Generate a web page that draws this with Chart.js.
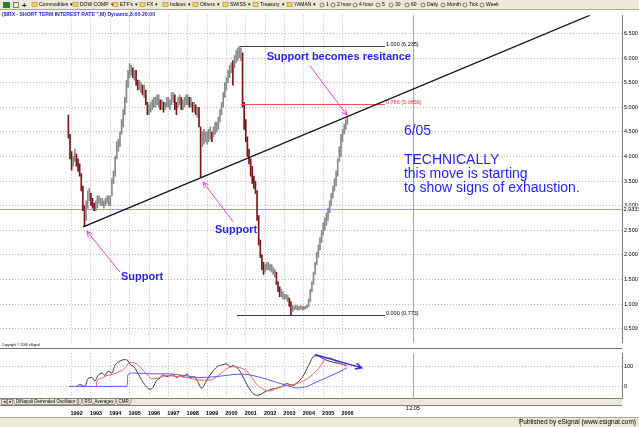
<!DOCTYPE html>
<html>
<head>
<meta charset="utf-8">
<title>$IRX - Short Term Interest Rate</title>
<script src="https://cdn.jsdelivr.net/npm/chart.js@4.4.1/dist/chart.umd.min.js"></script>
<style>
    html, body { margin: 0; padding: 0; background: #fff; }
    #page { position: relative; width: 639px; height: 427px; overflow: hidden; }
    canvas { position: absolute; left: 0; }
    #frame { top: 0; }
    #priceChart { top: 10px; }
    #oscChart { top: 348px; }
</style>
</head>
<body>
<div id="page">
    <canvas id="frame" width="639" height="427"></canvas>
    <canvas id="priceChart" width="639" height="338"></canvas>
    <canvas id="oscChart" width="639" height="70"></canvas>
</div>
<script>
"use strict";

// ---- data -------------------------------------------------------------

// monthly bars, the first one is Nov 1991
const firstBar = 1991 + 10 / 12;
const barHigh = [
    4.84, 4.45,
    4.10, 4.00, 4.15, 4.05, 3.95, 3.85, 3.65, 3.40, 3.00, 3.10, 3.30, 3.35,
    3.25, 3.15, 3.05, 3.10, 3.20, 3.20, 3.15, 3.15, 3.10, 3.15, 3.20, 3.20,
    3.20, 3.55, 3.70, 4.00, 4.30, 4.35, 4.50, 4.75, 4.95, 5.20, 5.55, 5.75,
    5.88, 5.85, 5.80, 5.75, 5.75, 5.55, 5.55, 5.50, 5.45, 5.45, 5.35, 5.10,
    5.05, 5.10, 5.15, 5.20, 5.20, 5.25, 5.25, 5.15, 5.15, 5.10, 5.10, 5.20,
    5.20, 5.15, 5.30, 5.30, 5.25, 5.10, 5.20, 5.25, 5.20, 5.15, 5.20, 5.25,
    5.25, 5.20, 5.20, 5.10, 5.10, 5.05, 5.00, 5.00, 4.60, 4.50, 4.55, 4.50,
    4.50, 4.55, 4.60, 4.50, 4.60, 4.70, 4.70, 4.80, 4.95, 5.10, 5.30, 5.50,
    5.60, 5.75, 5.85, 5.90, 5.95, 6.05, 6.15, 6.20, 6.235, 6.20, 6.10, 5.10,
    4.75, 4.40, 4.15, 3.95, 3.80, 3.60, 3.50, 3.30, 2.80, 2.30, 2.00, 1.85,
    1.80, 1.85, 1.85, 1.80, 1.80, 1.75, 1.70, 1.65, 1.45, 1.35, 1.30, 1.25,
    1.20, 1.20, 1.18, 1.12, 1.05, 0.98, 0.95, 0.98, 0.97, 0.95, 0.97, 0.96,
    0.95, 0.96, 0.98, 1.10, 1.30, 1.45, 1.65, 1.85, 2.05, 2.20, 2.35, 2.50,
    2.65, 2.75, 2.85, 2.95, 3.10, 3.25, 3.40, 3.55, 3.70, 3.95, 4.20, 4.45,
    4.55, 4.65, 4.75, 4.82
];
const barLow = [
    4.37, 3.95,
    3.72, 3.80, 3.90, 3.80, 3.70, 3.60, 3.30, 2.90, 2.58, 2.70, 2.95, 3.10,
    3.00, 2.95, 2.90, 2.90, 2.95, 3.05, 3.00, 3.00, 2.95, 3.00, 3.05, 3.00,
    3.00, 3.20, 3.45, 3.60, 3.95, 4.10, 4.20, 4.45, 4.60, 4.85, 5.10, 5.40,
    5.60, 5.65, 5.60, 5.55, 5.45, 5.35, 5.35, 5.30, 5.25, 5.20, 5.05, 4.85,
    4.85, 4.90, 4.95, 5.00, 5.00, 5.05, 5.00, 4.95, 4.95, 4.90, 4.95, 5.00,
    5.00, 4.95, 5.05, 5.10, 4.95, 4.85, 5.00, 5.05, 4.95, 4.95, 5.00, 5.05,
    5.05, 5.00, 5.00, 4.90, 4.90, 4.85, 4.80, 4.60, 3.58, 4.20, 4.25, 4.30,
    4.25, 4.30, 4.35, 4.30, 4.40, 4.45, 4.50, 4.55, 4.70, 4.85, 5.00, 5.20,
    5.35, 5.50, 5.60, 5.70, 5.45, 5.80, 5.90, 5.95, 6.00, 5.95, 5.00, 4.55,
    4.30, 4.00, 3.85, 3.60, 3.45, 3.35, 3.25, 2.70, 2.20, 1.95, 1.70, 1.60,
    1.65, 1.70, 1.70, 1.68, 1.65, 1.60, 1.55, 1.40, 1.25, 1.15, 1.15, 1.10,
    1.10, 1.10, 1.05, 0.95, 0.773, 0.85, 0.88, 0.90, 0.88, 0.88, 0.90, 0.88,
    0.88, 0.90, 0.92, 0.95, 1.05, 1.25, 1.40, 1.60, 1.80, 1.95, 2.10, 2.25,
    2.40, 2.50, 2.60, 2.70, 2.85, 3.00, 3.15, 3.30, 3.40, 3.60, 3.90, 4.00,
    4.30, 4.45, 4.55, 4.65
];

// lower panel: three oscillator lines (year, value)
const fastT = [1992.26, 1992.43, 1992.69, 1992.84, 1993.05, 1993.20, 1993.36, 1993.57, 1993.72, 1993.88,
    1994.08, 1994.24, 1994.50, 1994.75, 1994.91, 1995.01, 1995.22, 1995.37, 1995.68, 1996.05,
    1996.20, 1996.41, 1996.56, 1996.72, 1996.93, 1997.08, 1997.24, 1997.44, 1997.60, 1997.80,
    1997.96, 1998.11, 1998.32, 1998.48, 1998.73, 1998.89, 1998.99, 1999.25, 1999.51, 1999.77,
    2000.03, 2000.18, 2000.34, 2000.54, 2000.70, 2000.90, 2001.06, 2001.37, 2001.58, 2001.73,
    2001.94, 2002.09, 2002.35, 2002.61, 2002.87, 2003.13, 2003.28, 2003.44, 2003.64, 2003.80,
    2004.01, 2004.16, 2004.32, 2004.47, 2004.68, 2004.83, 2004.99, 2005.25, 2005.50, 2005.87, 2006.23];
const fastV = [0, 9, 0, 38, 45, 27, 55, 68, 55, 77,
    68, 106, 129, 136, 130, 114, 100, 77, 23, -14,
    -5, 32, 41, 59, 50, 55, 59, 45, 55, 50,
    64, 45, 50, 32, -9, 14, 32, 70, 100, 109,
    114, 100, 105, 95, 77, 40, 9, -36, -45, -43,
    -30, -23, -14, -9, 0, 14, 9, 5, 18, 32,
    60, 91, 120, 150, 155, 150, 141, 130, 123, 115, 105];

const midT = [1993.28, 1993.29, 1993.46, 1993.82, 1994.13, 1994.50, 1994.75, 1994.91, 1995.01, 1995.17,
    1995.53, 1995.89, 1996.20, 1996.56, 1996.93, 1997.44, 1997.96, 1998.63, 1999.15, 1999.66,
    2000.03, 2000.34, 2000.70, 2001.06, 2001.32, 2001.58, 2001.89, 2002.25, 2002.61, 2003.13,
    2003.44, 2003.80, 2004.16, 2004.47, 2004.83, 2005.09, 2005.35, 2005.71, 2006.23];
const midV = [0, 23, 38, 55, 61, 77, 91, 114, 121, 121,
    100, 61, 38, 45, 55, 50, 45, 32, 32, 61,
    91, 100, 95, 77, 45, 9, -14, -23, -9, 5,
    9, 20, 38, 61, 100, 136, 145, 123, 106];

const slowT = [1991.86, 1994.86, 1994.91, 1995.17, 1996.05, 1996.93, 1997.75, 1998.63, 1999.51, 2000.34,
    2000.85, 2001.37, 2002.09, 2002.77, 2003.28, 2003.64, 2004.16, 2004.68, 2005.19, 2005.71, 2006.23];
const slowV = [0, 0, 60, 68, 64, 64, 56, 45, 50, 60,
    62, 55, 36, 15, 0, -8, 0, 23, 45, 68, 94];

const yearTicks = [1992, 1993, 1994, 1995, 1996, 1997, 1998, 1999, 2000, 2001, 2002, 2003, 2004, 2005, 2006];
const priceTicks = [0.5, 1, 1.5, 2, 2.5, 3, 3.5, 4, 4.5, 5, 5.5, 6, 6.5];
const oscTicks = [0, 100];

// drawings on the chart, as [year, price] pairs
const supportLine = [[1992.60, 2.57], [2018.79, 6.87]];
const fibLabels = ['1.000 (6.235)', '0.786 (5.0656)', '0.000 (0.773)'];
const fibPrices = [6.235, 5.0656, 0.773];
const fibStart = [2000.70, 2000.75, 2000.54];
const fibEnd = 2008.19;
const pinkArrows = [
    [[2004.32, 5.84], [2006.23, 4.84]],
    [[2000.34, 2.675], [1998.79, 3.48]],
    [[1994.50, 1.65], [1992.79, 2.48]]
];
const notes = [
    ['Support becomes resitance', 2002.08, 6.02, 'bold 11px'],
    ['Support', 1999.41, 2.50, 'bold 11px'],
    ['Support', 1994.55, 1.55, 'bold 11px'],
    ['6/05', 2009.17, 4.52, '14px'],
    ['TECHNICALLY', 2009.17, 3.93, '14px'],
    ['this move is starting', 2009.17, 3.65, '14px'],
    ['to show signs of exhaustion.', 2009.17, 3.35, '14px']
];
const oscArrow = [[2004.57, 162], [2006.99, 94]];
const cursorT = 2009.64, cursorP = 2.9333, cursorLabel = '12:05';

const titleText = '($IRX - SHORT TERM INTEREST RATE ",M) Dynamic,8:00-20:00';
const menus = [['Commodities', 32], ['DOW COMP', 73], ["ETF's", 113], ['FX', 140], ['Indices', 163],
    ['Others', 193], ['SWISS', 223], ['Treasury', 253], ['YAMAN', 287]];
const intervals = [['1', 320], ['2 hour', 331], ['4 hour', 353], ['5', 376], ['30', 389],
    ['60', 405], ['Daily', 421], ['Month', 441], ['Tick', 463], ['Week', 480]];
const tabs = ['DiNapoli Detrended Oscillator ()', 'RSI_Averages', 'CMR'];

// ---- layout -----------------------------------------------------------

const X_MIN = 1988.3, X_MAX = 2020.44;
const PRICE_MIN = 0.215, PRICE_MAX = 6.868;
const OSC_MIN = -59, OSC_MAX = 168;
const FONT = '"Liberation Sans", Arial, sans-serif';
const GRID = 'rgba(215, 120, 120, 0.6)';
const CURSOR = '#9a9aff';
const BLUE_TEXT = '#1f1fff';

Chart.defaults.font.family = FONT;

function fitText(ctx, text, x, y, width) {
    let w = ctx.measureText(text).width;
    ctx.save();
    ctx.translate(x, y);
    ctx.scale(width / w, 1);
    ctx.fillText(text, 0, 0);
    ctx.restore();
}

function arrow(ctx, x1, y1, x2, y2, head) {
    let a = Math.atan2(y2 - y1, x2 - x1);
    ctx.beginPath();
    ctx.moveTo(x1, y1);
    ctx.lineTo(x2, y2);
    ctx.moveTo(x2 - head * Math.cos(a - 0.45), y2 - head * Math.sin(a - 0.45));
    ctx.lineTo(x2, y2);
    ctx.lineTo(x2 - head * Math.cos(a + 0.45), y2 - head * Math.sin(a + 0.45));
    ctx.stroke();
}

// toolbar, indicator tabs and status bar around the charts
function drawFrame() {
    let g = document.getElementById('frame').getContext('2d');
    g.fillStyle = '#fff';
    g.fillRect(0, 0, 639, 427);

    g.fillStyle = '#ece9d8';
    g.fillRect(0, 0, 639, 10);
    g.fillStyle = '#aca899';
    g.fillRect(0, 9, 639, 1);
    g.fillStyle = '#2e7d32';
    g.fillRect(3, 2, 7, 6);
    g.strokeStyle = '#555';
    g.lineWidth = 0.7;
    g.strokeRect(13.5, 2.5, 5, 5);
    g.fillStyle = '#000';
    g.textBaseline = 'middle';
    g.font = 'bold 8px ' + FONT;
    g.fillText('+', 22, 5.5);

    g.font = '5px ' + FONT;
    menus.forEach(([name, x]) => {
        g.fillStyle = '#f2d36b';
        g.fillRect(x, 2.5, 5, 4);
        g.strokeStyle = '#a6862a';
        g.lineWidth = 0.6;
        g.strokeRect(x, 2.5, 5, 4);
        g.fillStyle = '#000';
        g.fillText(name, x + 7, 5);
        let w = g.measureText(name).width;
        g.fillText('\u25be', x + 9 + w, 5);
    });
    intervals.forEach(([name, x]) => {
        g.strokeStyle = '#333';
        g.lineWidth = 0.6;
        g.beginPath();
        g.arc(x + 2, 5, 2, 0, Math.PI * 2);
        g.stroke();
        g.fillStyle = '#000';
        g.fillText(name, x + 6, 5);
    });

    // indicator tabs
    g.fillStyle = '#ece9d8';
    g.fillRect(0, 398, 622, 7);
    g.fillStyle = '#808080';
    g.fillRect(0, 398, 622, 1);
    g.fillRect(0, 405, 622, 1);
    g.strokeStyle = '#666';
    g.lineWidth = 0.6;
    g.strokeRect(1.5, 399.5, 5, 5);
    g.strokeRect(7.5, 399.5, 5, 5);
    g.fillStyle = '#000';
    g.font = '4px ' + FONT;
    g.fillText('\u25c4', 2.3, 402.2);
    g.fillText('\u25ba', 8.5, 402.2);
    g.font = '4.5px ' + FONT;
    let tx = 15;
    tabs.forEach(name => {
        let w = g.measureText(name).width;
        g.beginPath();
        g.moveTo(tx - 2, 399);
        g.lineTo(tx, 404.5);
        g.lineTo(tx + w + 2, 404.5);
        g.lineTo(tx + w + 4, 399);
        g.stroke();
        g.fillText(name, tx + 1, 402);
        tx += w + 5;
    });

    // status bar
    g.fillStyle = '#ece9d8';
    g.fillRect(0, 417, 639, 10);
    g.fillStyle = '#aca899';
    g.fillRect(0, 417, 639, 1);
    g.fillRect(520, 418, 1, 9);
    g.fillStyle = '#000';
    g.font = '6.5px ' + FONT;
    g.textAlign = 'right';
    g.fillText('Published by eSignal (www.esignal.com)', 636, 422.5);
}

// ---- price panel ------------------------------------------------------

let bars = barHigh.map((h, i) => ({x: firstBar + i / 12, y: [barLow[i], h]}));
let barColors = barHigh.map((h, i) => {
    if (i === 0) return '#7a1414';
    let mid = (h + barLow[i]) / 2, prev = (barHigh[i - 1] + barLow[i - 1]) / 2;
    return mid < prev - 0.05 ? '#7a1414' : '#8a8a8a';
});

// crosshair cursor, filled as 1px rects so it stays crisp
function drawCursor(ctx, a, cx, cy) {
    ctx.save();
    ctx.fillStyle = CURSOR;
    if (cy !== null) ctx.fillRect(a.left, Math.round(cy), a.right - a.left, 1);
    ctx.fillRect(Math.round(cx), a.top, 1, a.bottom - a.top);
    ctx.restore();
}

const priceDrawings = {
    id: 'priceDrawings',
    beforeDatasetsDraw(chart) {
        let {ctx, chartArea: a, scales: {x, y}} = chart;
        drawCursor(ctx, a, x.getPixelForValue(cursorT), y.getPixelForValue(cursorP));
    },
    afterDatasetsDraw(chart) {
        let {ctx, chartArea: a, scales: {x, y}} = chart;
        let px = t => x.getPixelForValue(t), py = p => y.getPixelForValue(p);
        ctx.save();
        ctx.beginPath();
        ctx.rect(a.left, a.top, a.right - a.left, a.bottom - a.top);
        ctx.clip();

        // fibonacci levels
        ctx.font = '5.5px ' + FONT;
        ctx.textBaseline = 'bottom';
        fibPrices.forEach((p, i) => {
            ctx.strokeStyle = i === 1 ? '#ff4d4d' : '#3a3a3a';
            ctx.lineWidth = 1;
            ctx.beginPath();
            ctx.moveTo(px(fibStart[i]), Math.round(py(p)) + 0.5);
            ctx.lineTo(px(fibEnd), Math.round(py(p)) + 0.5);
            ctx.stroke();
            ctx.fillStyle = i === 1 ? '#ff3030' : '#000';
            ctx.fillText(fibLabels[i], px(fibEnd) + 1, py(p) + 1);
        });

        // support / resistance line
        ctx.strokeStyle = '#111';
        ctx.lineWidth = 1.3;
        ctx.beginPath();
        ctx.moveTo(px(supportLine[0][0]), py(supportLine[0][1]));
        ctx.lineTo(px(supportLine[1][0]), py(supportLine[1][1]));
        ctx.stroke();

        ctx.strokeStyle = '#ff3ccf';
        ctx.lineWidth = 1;
        pinkArrows.forEach(([from, to]) => {
            arrow(ctx, px(from[0]), py(from[1]), px(to[0]), py(to[1]), 6);
        });

        ctx.fillStyle = BLUE_TEXT;
        ctx.textBaseline = 'middle';
        notes.forEach(([text, t, p, font]) => {
            ctx.font = font + ' ' + FONT;
            ctx.fillText(text, px(t), py(p));
        });
        ctx.restore();
    },
    afterDraw(chart) {
        let {ctx, chartArea: a, scales: {y}} = chart;
        ctx.save();
        ctx.textBaseline = 'middle';
        ctx.fillStyle = '#1c1cd6';
        ctx.font = 'bold 5px ' + FONT;
        fitText(ctx, titleText, 2, 4.5, 153);
        ctx.fillStyle = '#000';
        ctx.font = '4px ' + FONT;
        fitText(ctx, 'Copyright \u00a9 2006 eSignal', 2, 335, 38);

        // cursor value on the price axis
        let cy = y.getPixelForValue(cursorP);
        ctx.fillStyle = '#fff';
        ctx.fillRect(a.right + 1, cy - 2.5, 16, 6);
        ctx.fillStyle = '#000';
        ctx.font = '5.5px ' + FONT;
        ctx.fillText(cursorP.toFixed(4), a.right + 1.5, cy + 0.7);
        ctx.restore();
    }
};

new Chart(document.getElementById('priceChart'), {
    type: 'bar',
    data: {
        datasets: [{
            data: bars,
            backgroundColor: barColors,
            borderWidth: 0,
            barThickness: 1
        }]
    },
    options: {
        responsive: false,
        animation: false,
        devicePixelRatio: 1,
        events: [],
        layout: {padding: 0},
        plugins: {legend: {display: false}, tooltip: {enabled: false}},
        scales: {
            x: {
                type: 'linear',
                min: X_MIN,
                max: X_MAX,
                offset: false,
                afterBuildTicks: s => { s.ticks = yearTicks.map(v => ({value: v})); },
                afterFit: s => { s.height = 0; },
                ticks: {display: false},
                grid: {color: GRID, lineWidth: 1, drawTicks: false, offset: false},
                border: {display: false, dash: [1, 2]}
            },
            y: {
                position: 'right',
                min: PRICE_MIN,
                max: PRICE_MAX,
                afterBuildTicks: s => { s.ticks = priceTicks.map(v => ({value: v})); },
                afterFit: s => { s.width = 17; },
                ticks: {
                    color: '#000',
                    padding: 2,
                    font: {size: 5.5},
                    callback: v => v.toFixed(3)
                },
                grid: {color: GRID, lineWidth: 1, drawTicks: false},
                border: {display: true, color: '#7a7a7a', width: 1, dash: [1, 2]}
            }
        }
    },
    plugins: [priceDrawings]
});

// ---- oscillator panel -------------------------------------------------

const oscDrawings = {
    id: 'oscDrawings',
    beforeDatasetsDraw(chart) {
        let {ctx, chartArea: a, scales: {x}} = chart;
        drawCursor(ctx, a, x.getPixelForValue(cursorT), null);
    },
    afterDatasetsDraw(chart) {
        let {ctx, scales: {x, y}} = chart;
        ctx.save();
        ctx.strokeStyle = '#2a2aff';
        ctx.lineWidth = 1.5;
        arrow(ctx, x.getPixelForValue(oscArrow[0][0]), y.getPixelForValue(oscArrow[0][1]),
            x.getPixelForValue(oscArrow[1][0]), y.getPixelForValue(oscArrow[1][1]), 7);
        ctx.restore();
    },
    afterDraw(chart) {
        let {ctx, chartArea: a, scales: {x}} = chart;
        ctx.save();
        ctx.fillStyle = '#6e6e6e';
        ctx.fillRect(0, 0, a.right, 1);
        ctx.fillStyle = '#000';
        ctx.font = '5.5px ' + FONT;
        ctx.textAlign = 'center';
        ctx.textBaseline = 'middle';
        ctx.fillText(cursorLabel, x.getPixelForValue(cursorT), 60);
        ctx.restore();
    }
};

function oscLine(ts, vs, color) {
    return {
        data: ts.map((t, i) => ({x: t, y: vs[i]})),
        borderColor: color,
        borderWidth: 1,
        pointRadius: 0,
        cubicInterpolationMode: 'monotone',
        fill: false
    };
}

new Chart(document.getElementById('oscChart'), {
    type: 'line',
    data: {
        datasets: [
            oscLine(slowT, slowV, '#5a5aff'),
            oscLine(midT, midV, '#ff5c5c'),
            oscLine(fastT, fastV, '#3a3a3a')
        ]
    },
    options: {
        responsive: false,
        animation: false,
        devicePixelRatio: 1,
        events: [],
        layout: {padding: 0},
        plugins: {legend: {display: false}, tooltip: {enabled: false}},
        scales: {
            x: {
                type: 'linear',
                min: X_MIN,
                max: X_MAX,
                afterBuildTicks: s => { s.ticks = yearTicks.map(v => ({value: v})); },
                afterFit: s => { s.height = 20; },
                ticks: {
                    color: '#000',
                    padding: 12,
                    labelOffset: 5,
                    maxRotation: 0,
                    autoSkip: false,
                    font: {size: 5.5, weight: 'bold'},
                    callback: v => String(v)
                },
                grid: {color: GRID, lineWidth: 1, drawTicks: false},
                border: {display: false, dash: [1, 2]}
            },
            y: {
                position: 'right',
                min: OSC_MIN,
                max: OSC_MAX,
                afterBuildTicks: s => { s.ticks = oscTicks.map(v => ({value: v})); },
                afterFit: s => { s.width = 17; },
                ticks: {color: '#000', padding: 2, font: {size: 5.5}, callback: v => String(v)},
                grid: {color: GRID, lineWidth: 1, drawTicks: false},
                border: {display: true, color: '#7a7a7a', width: 1, dash: [1, 2]}
            }
        }
    },
    plugins: [oscDrawings]
});

drawFrame();
</script>
</body>
</html>
